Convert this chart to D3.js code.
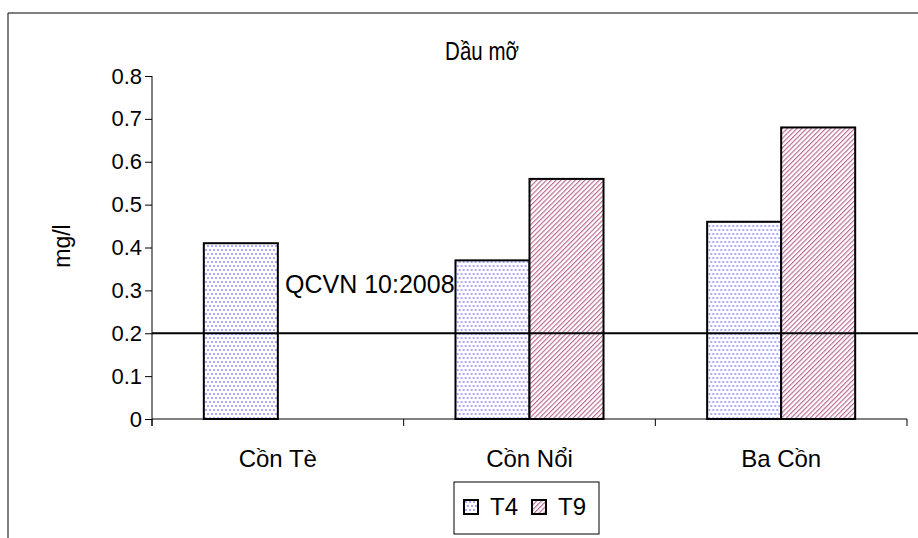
<!DOCTYPE html>
<html>
<head>
<meta charset="utf-8">
<script src="https://cdn.jsdelivr.net/npm/d3@7"></script>
<style>
  body { margin: 0; background: #fff; }
  text { font-family: "Liberation Sans", Arial, sans-serif; fill: #000; }
</style>
</head>
<body>
<div id="chart"></div>
<script>
// data
const categories = ['Cồn Tè', 'Cồn Nổi', 'Ba Cồn'];
const seriesNames = ['T4', 'T9'];
const t4Values = [0.41, 0.37, 0.46];
const t9Values = [null, 0.56, 0.68];
const yTicks = [0, 0.1, 0.2, 0.3, 0.4, 0.5, 0.6, 0.7, 0.8];
const limitValue = 0.2;
const limitLabel = 'QCVN 10:2008';

const svgWidth = 918;
const svgHeight = 538;

const svg = d3.select('#chart')
  .append('svg')
    .attr('width', svgWidth)
    .attr('height', svgHeight);

// outer chart frame (runs off right and bottom)
svg.append('path')
  .attr('d', `M8,${svgHeight + 2}V13H${svgWidth + 2}`)
  .attr('fill', 'none')
  .attr('stroke', '#000')
  .attr('stroke-width', 1);

const defs = svg.append('defs');

const dots = defs.append('pattern')
  .attr('id', 'dots')
  .attr('patternUnits', 'userSpaceOnUse')
  .attr('width', 8)
  .attr('height', 8);
dots.append('rect').attr('width', 8).attr('height', 8).attr('fill', '#fff');
[[2, 2], [6, 2], [0, 6], [4, 6], [8, 6]].forEach(p => {
  dots.append('circle')
    .attr('cx', p[0]).attr('cy', p[1]).attr('r', 0.95)
    .attr('fill', '#8585ff');
});

const stripes = defs.append('pattern')
  .attr('id', 'stripes')
  .attr('patternUnits', 'userSpaceOnUse')
  .attr('width', 3.4)
  .attr('height', 10)
  .attr('patternTransform', 'rotate(45)');
stripes.append('rect').attr('width', 3.4).attr('height', 10).attr('fill', '#fff');
stripes.append('rect').attr('width', 1.15).attr('height', 10).attr('fill', '#b86a93');

const fills = { T4: 'url(#dots)', T9: 'url(#stripes)' };

const plot = { left: 152, right: 907, top: 76, bottom: 419 };

const xScale = d3.scaleBand()
  .domain(categories)
  .range([plot.left, plot.right])
  .padding(0);

const xSub = d3.scaleBand()
  .domain(seriesNames)
  .range([0, xScale.bandwidth()])
  .paddingInner(0)
  .paddingOuter(0.7);

const yScale = d3.scaleLinear()
  .domain([0, 0.8])
  .range([plot.bottom, plot.top]);

const rows = categories.map((c, i) => ({
  category: c,
  values: [
    { key: 'T4', value: t4Values[i] },
    { key: 'T9', value: t9Values[i] }
  ]
}));

// bars
const groups = svg.append('g').selectAll('g').data(rows)
  .enter().append('g')
    .attr('transform', d => `translate(${xScale(d.category)},0)`);

groups.selectAll('rect')
  .data(d => d.values.filter(v => v.value !== null))
  .enter().append('rect')
    .attr('x', d => xSub(d.key))
    .attr('y', d => yScale(d.value))
    .attr('width', xSub.bandwidth())
    .attr('height', d => yScale(0) - yScale(d.value))
    .attr('fill', d => fills[d.key])
    .attr('stroke', '#000')
    .attr('stroke-width', 2);

// y axis
const yAxis = d3.axisLeft(yScale)
  .tickValues(yTicks)
  .tickFormat(d => d === 0 ? '0' : d3.format('.1f')(d))
  .tickSize(7)
  .tickPadding(3)
  .tickSizeOuter(0);

const yAxisG = svg.append('g')
  .attr('transform', `translate(${plot.left},0)`)
  .call(yAxis);
yAxisG.select('.domain').remove();
yAxisG.append('line')
  .attr('x1', 0).attr('x2', 0)
  .attr('y1', plot.top).attr('y2', plot.bottom + 7)
  .attr('stroke', '#000');
yAxisG.selectAll('text')
  .style('font-size', '22px')
  .attr('fill', '#000');

// x axis
const xAxisG = svg.append('g')
  .attr('transform', `translate(0,${plot.bottom})`);
xAxisG.append('line')
  .attr('x1', plot.left).attr('x2', plot.right)
  .attr('stroke', '#000');
xAxisG.selectAll('.tick')
  .data(categories.concat(['end']))
  .enter().append('line')
    .attr('x1', d => d === 'end' ? plot.right : xScale(d))
    .attr('x2', d => d === 'end' ? plot.right : xScale(d))
    .attr('y1', 0).attr('y2', 7)
    .attr('stroke', '#000');
xAxisG.selectAll('.cat')
  .data(categories)
  .enter().append('text')
    .attr('x', d => xScale(d) + xScale.bandwidth() / 2)
    .attr('y', 48)
    .attr('text-anchor', 'middle')
    .style('font-size', '24px')
    .text(d => d);

// limit line
svg.append('line')
  .attr('x1', plot.left).attr('x2', svgWidth)
  .attr('y1', yScale(limitValue)).attr('y2', yScale(limitValue))
  .attr('stroke', '#000')
  .attr('stroke-width', 2);

svg.append('text')
  .attr('x', 285)
  .attr('y', 293)
  .style('font-size', '25px')
  .text(limitLabel);

// title (narrow look)
svg.append('text')
  .attr('transform', 'translate(482,60) scale(0.82,1)')
  .attr('text-anchor', 'middle')
  .style('font-size', '25px')
  .text('Dầu mỡ');

// y label
svg.append('text')
  .attr('transform', 'translate(70,246) rotate(-90)')
  .attr('text-anchor', 'middle')
  .style('font-size', '23px')
  .text('mg/l');

// legend
const legend = svg.append('g').attr('transform', 'translate(454,482)');
legend.append('rect')
  .attr('width', 145).attr('height', 52)
  .attr('fill', '#fff')
  .attr('stroke', '#000');

const items = legend.selectAll('g').data(seriesNames)
  .enter().append('g')
    .attr('transform', (d, i) => `translate(${10 + i * 68},18)`);
items.append('rect')
  .attr('width', 14).attr('height', 14)
  .attr('fill', d => fills[d])
  .attr('stroke', '#000')
  .attr('stroke-width', 2);
items.append('text')
  .attr('x', 26)
  .attr('y', 15)
  .style('font-size', '24px')
  .text(d => d);
</script>
</body>
</html>
